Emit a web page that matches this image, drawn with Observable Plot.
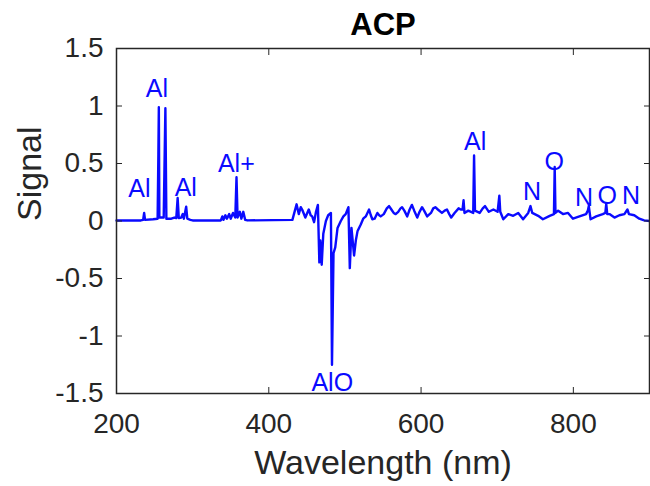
<!DOCTYPE html>
<html>
<head>
<meta charset="utf-8">
<script src="https://cdn.jsdelivr.net/npm/d3@7"></script>
<script src="https://cdn.jsdelivr.net/npm/@observablehq/plot@0.6"></script>
<style>
  html, body { margin: 0; padding: 0; background: #fff; }
  #chart svg { display: block; }
</style>
</head>
<body>
<div id="chart"></div>
<script>
// Spectrum (wavelength in nm, signal) - rows of 10 values in both arrays
const wavelength = [
  200, 232, 235, 236.3, 237.5, 248, 254, 255, 255.6, 256.3,
  262, 264.2, 265.5, 272, 276, 278.5, 280.3, 281.8, 285, 287,
  288.5, 291.5, 293, 297, 300, 337, 339, 340.5, 343, 345,
  348, 350, 353, 356, 357.6, 359, 362, 364, 366.5, 369,
  372, 431, 436.5, 439.4, 442, 443.8, 448, 452.5, 455, 457,
  459.5, 462, 464.5, 466.4, 467.7, 469.5, 471.6, 475, 478, 481.6,
  483, 485, 487.3, 490.3, 494.6, 498, 501, 504.6, 506.4, 508.6,
  512, 514.3, 516.5, 520.8, 524, 527.4, 531.7, 534, 536, 539,
  542.6, 545, 547, 551, 555, 558, 561, 564, 566.6, 570,
  573, 575, 578, 581.8, 585, 588, 591, 595, 598, 601.3,
  604, 608, 613, 616, 618.7, 622, 627.4, 631, 634, 637,
  639.6, 644, 649.3, 652, 654.5, 655.8, 657, 662, 668.5, 669.6,
  670.8, 677, 681, 684, 689, 695, 700.5, 702.8, 704, 708,
  714.5, 721, 727.6, 734, 740.7, 743.7, 746, 753.8, 760, 768.9,
  774.5, 775.5, 776.5, 780, 786.4, 793, 799.5, 808, 816.7, 819,
  820.3, 822.6, 830, 838.6, 842, 843.2, 844.5, 847.4, 854, 860.4,
  867, 871, 873, 880, 886.6, 893, 900
];
const signal = [
  0.005, 0.005, 0.01, 0.07, 0.01, 0.015, 0.02, 0.58, 0.99, 0.03,
  0.03, 0.98, 0.02, 0.02, 0.03, 0.025, 0.2, 0.025, 0.03, 0.06,
  0.02, 0.125, 0.02, 0.01, 0.005, 0.005, 0.04, 0.01, 0.05, 0.02,
  0.06, 0.02, 0.07, 0.03, 0.38, 0.03, 0.08, 0.02, 0.08, 0.01,
  0.005, 0.01, 0.145, 0.06, 0.12, 0.1, 0.03, 0.1, 0.05, 0.04,
  -0.01, 0.08, 0.14, -0.36, -0.17, -0.38, -0.11, 0.0, 0.05, 0.07,
  -1.25, -0.28, -0.23, -0.06, 0.0, 0.04, 0.06, 0.12, -0.41, -0.06,
  -0.3, -0.17, -0.09, -0.03, 0.02, 0.04, 0.1, 0.05, 0.015, 0.02,
  0.07, 0.05, 0.04, 0.06, 0.11, 0.13, 0.1, 0.07, 0.06, 0.08,
  0.11, 0.12, 0.09, 0.04, 0.1, 0.14, 0.09, 0.03, 0.08, 0.12,
  0.09, 0.04, 0.07, 0.11, 0.12, 0.1, 0.07, 0.09, 0.1, 0.06,
  0.03, 0.07, 0.11, 0.1, 0.1, 0.18, 0.07, 0.09, 0.07, 0.57,
  0.09, 0.07, 0.11, 0.13, 0.08, 0.1, 0.08, 0.22, 0.08, 0.015,
  0.06, 0.045, 0.07, 0.015, 0.07, 0.13, 0.07, 0.045, 0.015, 0.045,
  0.06, 0.47, 0.07, 0.09, 0.06, 0.07, 0.02, 0.04, 0.06, 0.09,
  0.13, 0.015, 0.04, 0.06, 0.07, 0.15, 0.06, 0.06, 0.03, 0.05,
  0.06, 0.1, 0.06, 0.05, 0.02, 0.005, 0.0
];

// Peak annotations
const labelText = ["Al", "Al", "Al", "Al+", "AlO", "Al", "N", "O", "N", "O", "N"];
const labelX = [230, 253, 291, 357.4, 483.4, 671, 745.6, 775, 814, 844.6, 875.7];
const labelY = [0.28, 1.15, 0.283, 0.497, -1.41, 0.69, 0.253, 0.517, 0.203, 0.218, 0.215];

// Axes
const xTicks = [200, 400, 600, 800];
const yTicks = [-1.5, -1, -0.5, 0, 0.5, 1, 1.5];
const xDomain = [200, 900];
const yDomain = [-1.5, 1.5];
const titleText = "ACP";
const xLabel = "Wavelength (nm)";
const yLabel = "Signal";

const spectrum = wavelength.map((w, i) => ({w, s: signal[i]}));
const labels = labelText.map((t, i) => ({t, x: labelX[i], y: labelY[i]}));

const font = "'Liberation Sans', Arial, Helvetica, sans-serif";
const axisColor = "#262626";

const chart = Plot.plot({
  width: 650,
  height: 486,
  marginLeft: 116,
  marginRight: 1,
  marginTop: 48,
  marginBottom: 93,
  style: {fontFamily: font, background: "#fff", overflow: "visible"},
  x: {domain: xDomain, label: null},
  y: {domain: yDomain, label: null},
  marks: [
    Plot.line(spectrum, {x: "w", y: "s", stroke: "#0a0aff", strokeWidth: 2.4, strokeLinejoin: "round"}),
    Plot.text(labels, {x: "x", y: "y", text: "t", fill: "#0a0aff", fontSize: 25}),
    Plot.frame({stroke: axisColor, strokeWidth: 1.5}),
    Plot.axisX({ticks: xTicks, anchor: "bottom", tickSize: -6, tickPadding: 26, fontSize: 28,
      tickFormat: d => String(d), label: null, color: axisColor}),
    Plot.axisX({ticks: xTicks, anchor: "top", tickSize: -6, fill: "none", label: null, stroke: axisColor}),
    Plot.axisY({ticks: yTicks, anchor: "left", tickSize: -6, tickPadding: 19, fontSize: 28,
      tickFormat: d => String(d), label: null, color: axisColor}),
    Plot.axisY({ticks: yTicks, anchor: "right", tickSize: -6, fill: "none", label: null, stroke: axisColor}),
    Plot.text([titleText], {frameAnchor: "top", lineAnchor: "middle", dy: -23, text: d => d, fontSize: 31, fontWeight: "bold", fill: "#000"}),
    Plot.text([xLabel], {frameAnchor: "bottom", lineAnchor: "middle", dy: 70, text: d => d, fontSize: 34, fill: axisColor}),
    Plot.text([yLabel], {frameAnchor: "left", lineAnchor: "middle", dx: -86, rotate: -90, text: d => d, fontSize: 34, fill: axisColor})
  ]
});
document.getElementById("chart").appendChild(chart);
</script>
</body>
</html>
